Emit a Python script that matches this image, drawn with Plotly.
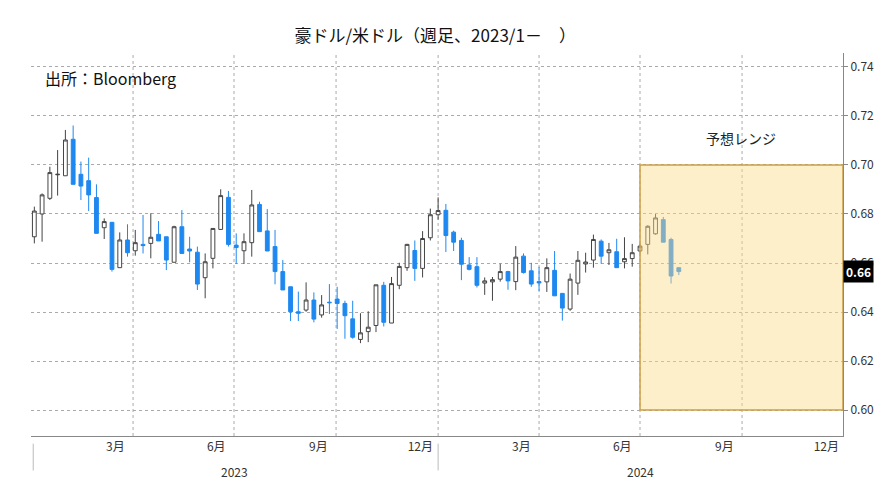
import plotly.graph_objects as go
import pandas as pd

# 週足 OHLC（2023/1～）
open_ = [0.6707, 0.6800, 0.6864, 0.6960, 0.6956, 0.7105, 0.6962, 0.6936, 0.6867, 0.6744,
         0.6766, 0.6581, 0.6694, 0.6650, 0.6676, 0.6680, 0.6717, 0.6707, 0.6603, 0.6748,
         0.6657, 0.6644, 0.6540, 0.6619, 0.6737, 0.6868, 0.6673, 0.6650, 0.6683, 0.6839,
         0.6731, 0.6667, 0.6565, 0.6503, 0.6401, 0.6408, 0.6449, 0.6388, 0.6440, 0.6453,
         0.6435, 0.6372, 0.6288, 0.6320, 0.6345, 0.6509, 0.6355, 0.6509, 0.6581, 0.6651,
         0.6578, 0.6703, 0.6797, 0.6815, 0.6726, 0.6692, 0.6592, 0.6585, 0.6518, 0.6523,
         0.6534, 0.6565, 0.6524, 0.6628, 0.6568, 0.6524, 0.6523, 0.6570, 0.6476, 0.6412,
         0.6518, 0.6596, 0.6612, 0.6689, 0.6642, 0.6646, 0.6605, 0.6618, 0.6649, 0.6676,
         0.6719, 0.6777, 0.6696, 0.6581]
high = [0.6830, 0.6884, 0.6993, 0.7061, 0.7143, 0.7161, 0.7014, 0.7030, 0.6921, 0.6782,
        0.6766, 0.6725, 0.6758, 0.6735, 0.6796, 0.6803, 0.6771, 0.6707, 0.6752, 0.6816,
        0.6707, 0.6667, 0.6639, 0.6741, 0.6901, 0.6894, 0.6721, 0.6721, 0.6898, 0.6850,
        0.6820, 0.6735, 0.6612, 0.6503, 0.6483, 0.6521, 0.6480, 0.6469, 0.6514, 0.6503,
        0.6446, 0.6446, 0.6395, 0.6403, 0.6511, 0.6523, 0.6543, 0.6601, 0.6678, 0.6692,
        0.6730, 0.6822, 0.6868, 0.6841, 0.6732, 0.6703, 0.6624, 0.6624, 0.6541, 0.6543,
        0.6597, 0.6568, 0.6669, 0.6639, 0.6601, 0.6584, 0.6619, 0.6649, 0.6476, 0.6557,
        0.6649, 0.6642, 0.6716, 0.6696, 0.6682, 0.6699, 0.6705, 0.6678, 0.6678, 0.6754,
        0.6800, 0.6788, 0.6703, 0.6581]
low = [0.6680, 0.6687, 0.6857, 0.6875, 0.6956, 0.6921, 0.6857, 0.6812, 0.6721, 0.6698,
       0.6565, 0.6581, 0.6626, 0.6630, 0.6639, 0.6619, 0.6690, 0.6571, 0.6603, 0.6639,
       0.6603, 0.6490, 0.6456, 0.6578, 0.6737, 0.6667, 0.6596, 0.6596, 0.6626, 0.6728,
       0.6649, 0.6513, 0.6490, 0.6363, 0.6363, 0.6401, 0.6358, 0.6377, 0.6392, 0.6331,
       0.6291, 0.6291, 0.6273, 0.6277, 0.6318, 0.6341, 0.6355, 0.6493, 0.6568, 0.6527,
       0.6541, 0.6692, 0.6777, 0.6645, 0.6649, 0.6530, 0.6570, 0.6500, 0.6470, 0.6446,
       0.6524, 0.6491, 0.6489, 0.6557, 0.6503, 0.6486, 0.6482, 0.6466, 0.6365, 0.6405,
       0.6470, 0.6561, 0.6581, 0.6597, 0.6592, 0.6581, 0.6578, 0.6585, 0.6642, 0.6635,
       0.6716, 0.6685, 0.6516, 0.6551]
close = [0.6812, 0.6878, 0.6969, 0.6962, 0.7102, 0.6921, 0.6914, 0.6878, 0.6721, 0.6769,
         0.6574, 0.6694, 0.6642, 0.6683, 0.6671, 0.6705, 0.6690, 0.6612, 0.6748, 0.6639,
         0.6649, 0.6514, 0.6605, 0.6741, 0.6875, 0.6676, 0.6663, 0.6687, 0.6837, 0.6728,
         0.6649, 0.6565, 0.6490, 0.6401, 0.6395, 0.6449, 0.6371, 0.6429, 0.6438, 0.6435,
         0.6385, 0.6297, 0.6315, 0.6338, 0.6511, 0.6358, 0.6516, 0.6586, 0.6676, 0.6578,
         0.6700, 0.6797, 0.6814, 0.6712, 0.6685, 0.6595, 0.6574, 0.6509, 0.6527, 0.6532,
         0.6565, 0.6527, 0.6624, 0.6561, 0.6514, 0.6519, 0.6581, 0.6466, 0.6416, 0.6534,
         0.6611, 0.6604, 0.6696, 0.6628, 0.6654, 0.6581, 0.6618, 0.6642, 0.6669, 0.6750,
         0.6784, 0.6685, 0.6547, 0.6565]
dates = pd.date_range("2023-01-02", periods=len(close), freq="7D")

# 予想レンジ
range_start, range_end = "2024-07-01", "2024-12-31"
range_low, range_high = 0.60, 0.70

month_ticks = ["2023-03-16", "2023-06-15", "2023-09-15", "2023-12-16",
               "2024-03-16", "2024-06-15", "2024-09-15", "2024-12-16"]
month_labels = ["3月", "6月", "9月", "12月", "3月", "6月", "9月", "12月"]
y_ticks = [0.60, 0.62, 0.64, 0.66, 0.68, 0.70, 0.72, 0.74]

FONT = "Noto Sans CJK JP"

fig = go.Figure()
fig.add_trace(go.Candlestick(
    x=dates, open=open_, high=high, low=low, close=close,
    increasing=dict(fillcolor="white", line=dict(color="#444444", width=1)),
    decreasing=dict(fillcolor="#1E88F0", line=dict(color="#1E88F0", width=1)),
    whiskerwidth=0, showlegend=False, hoverinfo="skip",
))

# 予想レンジの枠
fig.add_shape(type="rect", x0=range_start, x1=range_end, y0=range_low, y1=range_high,
              xref="x", yref="y", fillcolor="rgba(253,220,140,0.45)",
              line=dict(color="#C9A04A", width=1.5), layer="above")

# 四半期の縦グリッド
for d in ["2023-04-01", "2023-07-01", "2023-10-01", "2024-01-01",
          "2024-04-01", "2024-07-01", "2024-10-01"]:
    fig.add_shape(type="line", x0=d, x1=d, y0=0, y1=1, xref="x", yref="paper",
                  line=dict(color="#AAAAAA", width=1, dash="dot"), layer="below")
# 年区切り
for d in ["2023-01-01", "2024-01-01", "2025-01-01"]:
    fig.add_shape(type="line", x0=d, x1=d, y0=-0.02, y1=-0.09, xref="x", yref="paper",
                  line=dict(color="#BBBBBB", width=1))

fig.add_annotation(x="2024-09-30", y=0.706, text="予想レンジ", showarrow=False,
                   yanchor="bottom", font=dict(size=14, color="#222222", family=FONT))
fig.add_annotation(x=0.015, y=0.97, xref="paper", yref="paper", text="出所：Bloomberg",
                   showarrow=False, xanchor="left", yanchor="top",
                   font=dict(size=16, color="#111111", family=FONT))
fig.add_annotation(x="2023-07-01", y=-0.065, yref="paper", text="2023", showarrow=False,
                   yanchor="top", font=dict(size=12, color="#333333", family=FONT))
fig.add_annotation(x="2024-07-01", y=-0.065, yref="paper", text="2024", showarrow=False,
                   yanchor="top", font=dict(size=12, color="#333333", family=FONT))
# 最新値ラベル
fig.add_annotation(x=1.0, y=close[-1], xref="paper", yref="y", text="<b>0.66</b>",
                   showarrow=False, xanchor="left", bgcolor="black",
                   font=dict(size=12, color="white", family=FONT), borderpad=2)

fig.update_layout(
    width=890, height=482,
    margin=dict(l=23, r=55, t=45, b=54, autoexpand=False),
    paper_bgcolor="white", plot_bgcolor="white",
    title=dict(text="豪ドル/米ドル（週足、2023/1－　）", x=0.48, y=0.955,
               font=dict(size=17, color="#111111", family=FONT)),
    font=dict(family=FONT),
    xaxis=dict(
        range=["2022-12-30", "2024-12-31"], rangeslider=dict(visible=False),
        tickvals=month_ticks, ticktext=month_labels, ticks="", showgrid=False,
        showline=True, linecolor="#888888", zeroline=False, automargin=False,
        tickfont=dict(size=12, color="#333333"),
    ),
    yaxis=dict(
        side="right", range=[0.5894, 0.7457], tickvals=y_ticks, automargin=False,
        tickformat=".2f", showgrid=True, gridcolor="#AAAAAA", griddash="dot",
        showline=True, linecolor="#888888", ticks="outside", ticklen=4,
        tickcolor="#888888", zeroline=False, tickfont=dict(size=12, color="#333333"),
    ),
)

fig.write_html("out.html")
